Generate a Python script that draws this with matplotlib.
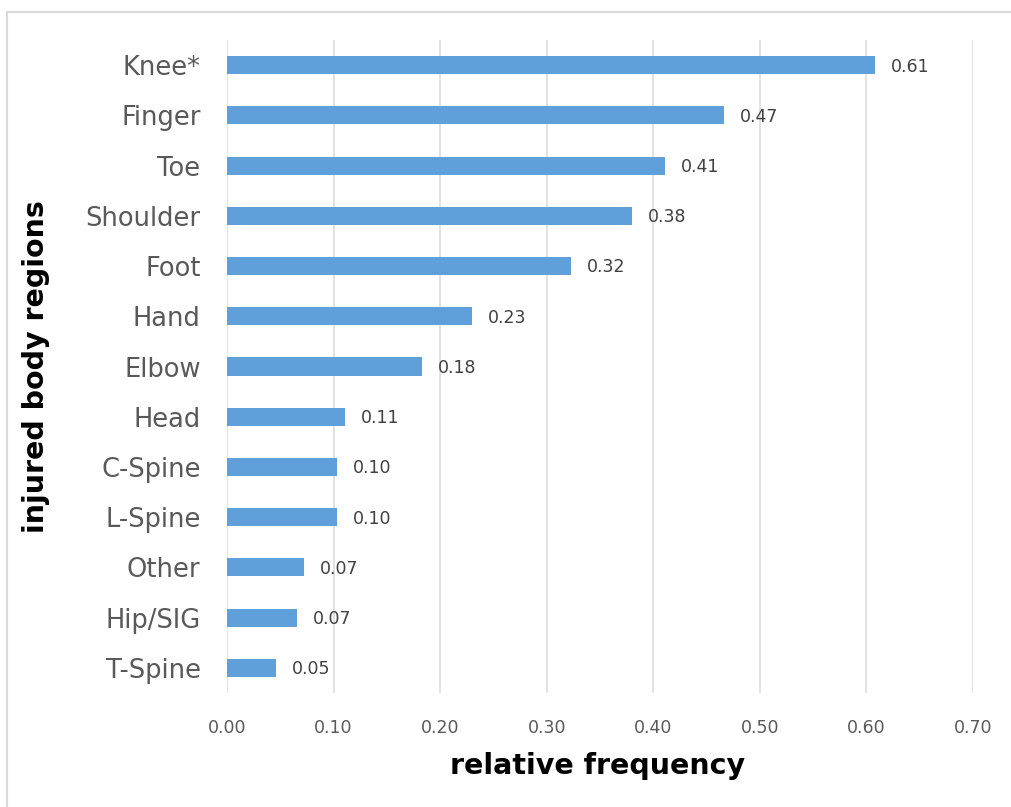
import matplotlib
matplotlib.use("Agg")
import matplotlib.pyplot as plt
from matplotlib.patches import Rectangle

categories = ["Knee*", "Finger", "Toe", "Shoulder", "Foot", "Hand", "Elbow",
              "Head", "C-Spine", "L-Spine", "Other", "Hip/SIG", "T-Spine"]
values = [0.608, 0.466, 0.411, 0.380, 0.323, 0.230, 0.183,
          0.111, 0.103, 0.103, 0.072, 0.066, 0.046]
value_labels = ["0.61", "0.47", "0.41", "0.38", "0.32", "0.23", "0.18",
                "0.11", "0.10", "0.10", "0.07", "0.07", "0.05"]
xticks = [0.0, 0.1, 0.2, 0.3, 0.4, 0.5, 0.6, 0.7]
xtick_labels = ["0.00", "0.10", "0.20", "0.30", "0.40", "0.50", "0.60", "0.70"]

plt.rcParams['font.family'] = ['DejaVu Sans']

W, H = 1011, 807
fig = plt.figure(figsize=(W / 100, H / 100), dpi=100)
ax = fig.add_axes([227 / W, 1 - 693 / H, (973 - 227) / W, (693 - 40) / H])

ypos = list(range(len(categories)))
ax.barh(ypos, values, height=0.36, color="#5FA0DA", zorder=3)
ax.set_ylim(len(categories) - 0.5, -0.5)
ax.set_xlim(0, 0.7)

ax.set_yticks(ypos)
ax.set_yticklabels(categories, fontsize=18.5, color="#595959")
ax.set_xticks(xticks)
ax.set_xticklabels(xtick_labels, fontsize=12.5, color="#595959")
ax.tick_params(axis="both", length=0)
ax.tick_params(axis="y", pad=19)
ax.tick_params(axis="x", pad=19)

ax.grid(axis="x", color="#DDDDDD", linewidth=1.2, zorder=0)
for s in ax.spines.values():
    s.set_visible(False)

for y, v, lab in zip(ypos, values, value_labels):
    ax.annotate(lab, xy=(v, y), xytext=(11.5, -1), textcoords="offset points",
                ha="left", va="center", fontsize=12.5, color="#404040")

fig.text(598 / W, 1 - 766 / H, "relative frequency", fontsize=20.5,
         fontweight="bold", ha="center", va="center", color="black")
fig.text(36 / W, 1 - 367 / H, "injured body regions", fontsize=20.5,
         fontweight="bold", ha="center", va="center", rotation=90, color="black")

fig.patches.append(Rectangle((7 / W, -0.1), 1.2, 1 - 12 / H + 0.1,
                             transform=fig.transFigure, fill=False,
                             edgecolor="#D9D9D9", linewidth=1.5))

fig.savefig("out.png", dpi=100, facecolor="white")
